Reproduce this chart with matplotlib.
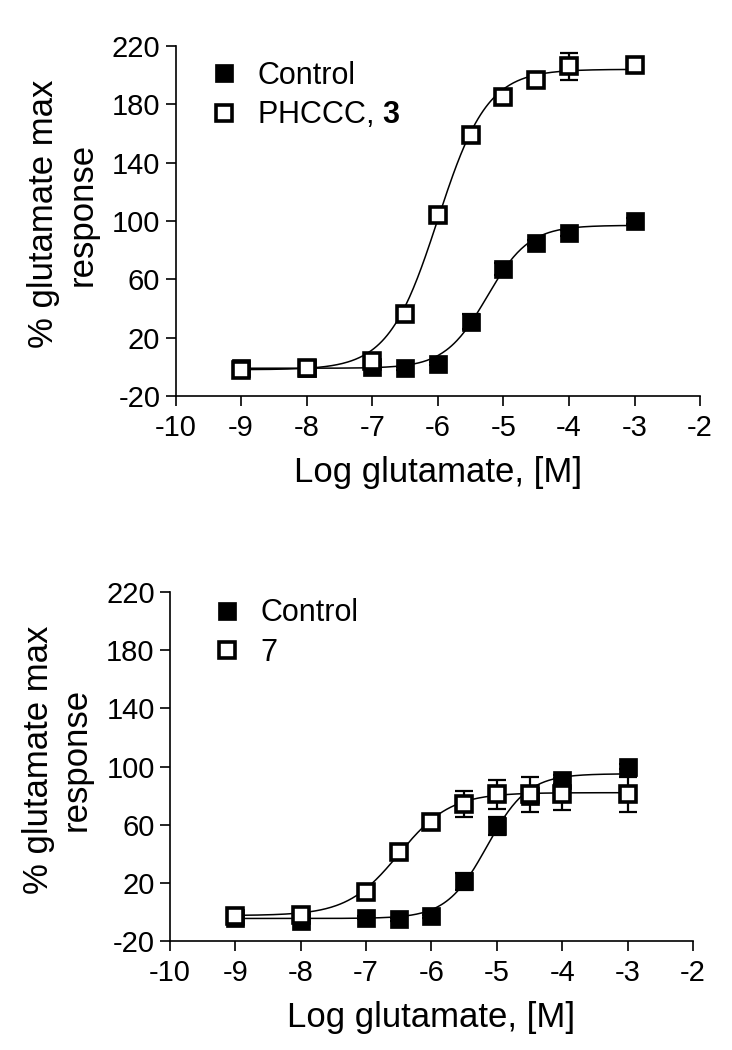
import numpy as np
import matplotlib
matplotlib.use("Agg")
import matplotlib.pyplot as plt

plt.rcParams["font.family"] = ["Liberation Sans", "DejaVu Sans"]
plt.rcParams["mathtext.fontset"] = "custom"
plt.rcParams["mathtext.rm"] = "Liberation Sans"
plt.rcParams["mathtext.bf"] = "Liberation Sans:bold"
plt.rcParams["axes.unicode_minus"] = False

# log [glutamate], M
conc = [-9, -8, -7, -6.5, -6, -5.5, -5, -4.5, -4, -3]

# top panel: control vs PHCCC (3)
ctrl_a = [-1, -1, 0, -1, 2, 31, 67, 85, 92, 100]
ctrl_a_err = [1, 1, 1, 1, 1, 5, 4, 2, 2, 2]
phccc = [-2, -1, 4, 36, 104, 159, 185, 197, 206, 207]
phccc_err = [1, 1, 2, 3, 3, 4, 2, 2, 9, 3]

# bottom panel: control vs compound 7
ctrl_b = [-4, -6, -4, -5, -3, 21, 59, 80, 91, 100]
ctrl_b_err = [1, 1, 1, 1, 1, 6, 6, 5, 3, 2]
cmpd7 = [-3, -2, 14, 41, 62, 74, 81, 81, 81, 81]
cmpd7_err = [1, 1, 2, 2, 3, 9, 10, 12, 11, 12]

# Hill fits: bottom, top, logEC50, slope
fit_ctrl_a = (-1, 97, -5.25, 1.35)
fit_phccc = (-2, 204, -6.0, 1.15)
fit_ctrl_b = (-4.5, 95, -5.15, 1.4)
fit_cmpd7 = (-2.5, 82, -6.5, 1.1)

yticks = [-20, 20, 60, 100, 140, 180, 220]
xticks = [-10, -9, -8, -7, -6, -5, -4, -3, -2]


def hill(x, bottom, top, ec50, h):
    return bottom + (top - bottom) / (1 + 10 ** ((ec50 - x) * h))


def panel(ax, series, leg_anchor):
    xs = np.linspace(min(conc), max(conc), 300)
    for y, err, fit, filled, label in series:
        ax.plot(xs, hill(xs, *fit), color="black", lw=1.1, zorder=2)
        ax.errorbar(conc, y, yerr=err, fmt="none", ecolor="black",
                    elinewidth=1.6, capsize=6.5, capthick=1.6, zorder=3)
        if filled:
            ax.plot(conc, y, "s", ms=12.5, mfc="black", mec="black", mew=0.5,
                    ls="none", zorder=4, label=label)
        else:
            ax.plot(conc, y, "s", ms=11.5, mfc="white", mec="black", mew=2.6,
                    ls="none", zorder=5, label=label)
    ax.set_xlim(-10, -2)
    ax.set_ylim(-20, 220)
    ax.set_xticks(xticks)
    ax.set_yticks(yticks)
    for s in ("top", "right"):
        ax.spines[s].set_visible(False)
    for s in ("left", "bottom"):
        ax.spines[s].set_linewidth(1.2)
    ax.tick_params(direction="out", length=7, width=1.2, labelsize=21, pad=4)
    ax.tick_params(axis="x", pad=6)
    ax.set_xlabel("Log glutamate, [M]", fontsize=25, labelpad=10)
    ax.set_ylabel("% glutamate max\nresponse", fontsize=25, va="center",
                  linespacing=1.2)
    ax.yaxis.set_label_coords(-0.215, 0.52)
    ax.legend(loc="upper left", bbox_to_anchor=leg_anchor, frameon=False,
              fontsize=22, handlelength=1.0, handletextpad=0.6,
              labelspacing=0.32, borderaxespad=0, borderpad=0, numpoints=1)


fig = plt.figure(figsize=(7.32, 10.5), dpi=100)
ax1 = fig.add_axes([0.2398, 0.6229, 0.7166, 0.3333])
ax2 = fig.add_axes([0.2322, 0.1038, 0.7145, 0.3324])

panel(ax1, [(ctrl_a, ctrl_a_err, fit_ctrl_a, True, "Control"),
            (phccc, phccc_err, fit_phccc, False, "PHCCC, $\\mathbf{3}$")],
      (0.063, 0.958))
panel(ax2, [(ctrl_b, ctrl_b_err, fit_ctrl_b, True, "Control"),
            (cmpd7, cmpd7_err, fit_cmpd7, False, "7")],
      (0.08, 0.982))

fig.savefig("out.png", dpi=100)
